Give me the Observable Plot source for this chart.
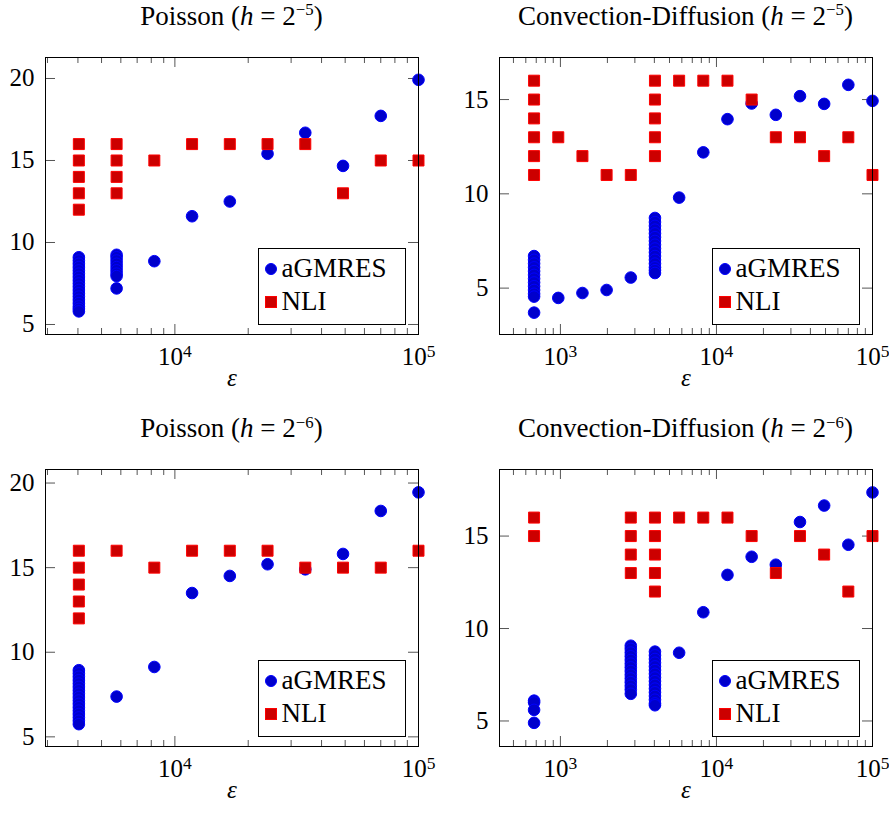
<!DOCTYPE html>
<html><head><meta charset="utf-8">
<script src="https://cdn.jsdelivr.net/npm/d3@7"></script>
<script src="https://cdn.jsdelivr.net/npm/@observablehq/plot@0.6"></script>
<style>
body{margin:0;background:#fff;}
#root{position:relative;width:889px;height:815px;font-family:"Liberation Serif",serif;color:#000;overflow:hidden;}
.title{position:absolute;font-size:27px;line-height:27px;text-align:center;white-space:nowrap;}
.sup{font-size:0.62em;position:relative;top:-0.55em;}
.panel{position:absolute;}
.panel svg text{font-family:"Liberation Serif",serif;}
.legend{position:absolute;border:1px solid #000;background:#fff;box-sizing:border-box;font-size:27px;}
.legend .t{position:absolute;line-height:32px;white-space:nowrap;}
.legend .c{position:absolute;width:10px;height:10px;border:1px solid #0000ff;background:#0000cc;border-radius:50%;}
.legend .s{position:absolute;width:10px;height:10px;border:1px solid #ff0000;background:#cc0000;}
</style></head>
<body><div id="root"></div>
<script>
// ---------- data ----------
const poissonEps = [4035, 5765, 8235, 11765, 16807, 24010, 34300, 49000, 70000, 100000];
const cdEps = [678, 969, 1384, 1977, 2825, 4035, 5765, 8235, 11765, 16807, 24010, 34300, 49000, 70000, 100000];

const poissonYTicks = [5, 10, 15, 20];
const cdYTicks = [5, 10, 15];
const poissonXMajor = [1e4, 1e5];
const poissonXMinor = [3000, 4000, 5000, 6000, 7000, 8000, 9000, 20000, 30000, 40000, 50000, 60000, 70000, 80000, 90000];
const cdXMajor = [1e3, 1e4, 1e5];
const cdXMinor = [500, 600, 700, 800, 900, 2000, 3000, 4000, 5000, 6000, 7000, 8000, 9000, 20000, 30000, 40000, 50000, 60000, 70000, 80000, 90000];

// Poisson h = 2^-5
const p5Agmres = [
  [9.1, 8.9, 8.7, 8.5, 8.3, 8.1, 7.9, 7.7, 7.5, 7.3, 7.1, 6.9, 6.7, 6.5, 6.3, 6.1, 5.95, 5.8],
  [9.25, 9.1, 8.9, 8.7, 8.5, 8.3, 8.1, 7.95, 7.2],
  [8.86], [11.6], [12.5], [15.41], [16.69], [14.67], [17.72], [19.92]
];
const p5Nli = [[16, 15, 14, 13, 12], [16, 15, 14, 13], [15], [16], [16], [16], [16], [13], [15], [15]];

// Convection-Diffusion h = 2^-5
const c5Agmres = [
  [6.7, 6.5, 6.3, 6.1, 5.9, 5.7, 5.5, 5.3, 5.1, 4.9, 4.7, 4.55, 3.7],
  [4.48], [4.74], [4.9], [5.56],
  [8.72, 8.5, 8.3, 8.1, 7.9, 7.7, 7.5, 7.3, 7.1, 6.9, 6.7, 6.5, 6.3, 6.1, 5.95, 5.8],
  [9.8], [12.2], [13.96], [14.79], [14.19], [15.18], [14.77], [15.78], [14.93]
];
const c5Nli = [[16, 15, 14, 13, 12, 11], [13], [12], [11], [11], [16, 15, 14, 13, 12], [16], [16], [16], [15], [13], [13], [12], [13], [11]];

// Poisson h = 2^-6
const p6Agmres = [
  [8.94, 8.75, 8.55, 8.35, 8.15, 7.95, 7.75, 7.55, 7.35, 7.15, 6.95, 6.75, 6.55, 6.35, 6.15, 5.95, 5.75],
  [7.38], [9.13], [13.5], [14.51], [15.2], [14.9], [15.81], [18.35], [19.45]
];
const p6Nli = [[16, 15, 14, 13, 12], [16], [15], [16], [16], [16], [15], [15], [15], [16]];

// Convection-Diffusion h = 2^-6
const c6Agmres = [
  [6.1, 6.0, 5.6, 4.9], [], [], [],
  [9.07, 8.9, 8.7, 8.5, 8.3, 8.1, 7.9, 7.7, 7.5, 7.3, 7.1, 6.9, 6.7, 6.47],
  [8.75, 8.55, 8.35, 8.15, 7.95, 7.75, 7.55, 7.35, 7.15, 6.95, 6.75, 6.55, 6.35, 6.15, 5.95, 5.85],
  [8.69], [10.88], [12.9], [13.88], [13.45], [15.76], [16.65], [14.53], [17.36]
];
const c6Nli = [[16, 15], [], [], [], [16, 15, 14, 13], [16, 15, 14, 13, 12], [16], [16], [16], [15], [13], [15], [14], [12], [15]];

const seriesNames = ["aGMRES", "NLI"];

// ---------- layout ----------
const panels = [
  {title: 'Poisson (<i>h</i> = 2<span class="sup">−5</span>)', left: 0, top: 40, titleTop: 2.5,
   eps: poissonEps, ag: p5Agmres, nli: p5Nli, xDomain: [2944, 100000], yDomain: [4.39, 21.28],
   yTicks: poissonYTicks, xMajor: poissonXMajor, xMinor: poissonXMinor, mLeft: 45, mTop: 17},
  {title: 'Convection-Diffusion (<i>h</i> = 2<span class="sup">−5</span>)', left: 445, top: 40, titleTop: 2.5,
   eps: cdEps, ag: c5Agmres, nli: c5Nli, xDomain: [407, 100000], yDomain: [2.54, 17.23],
   yTicks: cdYTicks, xMajor: cdXMajor, xMinor: cdXMinor, mLeft: 54, mTop: 17},
  {title: 'Poisson (<i>h</i> = 2<span class="sup">−6</span>)', left: 0, top: 450, titleTop: 415,
   eps: poissonEps, ag: p6Agmres, nli: p6Nli, xDomain: [2944, 100000], yDomain: [4.43, 20.8],
   yTicks: poissonYTicks, xMajor: poissonXMajor, xMinor: poissonXMinor, mLeft: 45, mTop: 19},
  {title: 'Convection-Diffusion (<i>h</i> = 2<span class="sup">−6</span>)', left: 445, top: 450, titleTop: 415,
   eps: cdEps, ag: c6Agmres, nli: c6Nli, xDomain: [407, 100000], yDomain: [3.62, 18.6],
   yTicks: cdYTicks, xMajor: cdXMajor, xMinor: cdXMinor, mLeft: 54, mTop: 19}
];

const FW = 373, FH = 277, PW = 444, PH = 365;
const tickC = "#555";
const root = document.getElementById("root");
const rows = (eps, vals) => eps.flatMap((e, i) => vals[i].map(v => ({eps: e, it: v})));

for (const p of panels) {
  const fx = p.left + p.mLeft, fy = p.top + p.mTop;
  const t = document.createElement("div");
  t.className = "title";
  t.style.left = (fx - 60) + "px"; t.style.width = (FW + 120) + "px"; t.style.top = p.titleTop + "px";
  t.innerHTML = p.title;
  root.appendChild(t);

  const svg = Plot.plot({
    width: PW, height: PH,
    marginLeft: p.mLeft, marginRight: PW - p.mLeft - FW, marginTop: p.mTop, marginBottom: PH - p.mTop - FH,
    x: {type: "log", domain: p.xDomain},
    y: {domain: p.yDomain},
    style: "font-family: 'Liberation Serif', serif; font-size: 25px; color: black; background: transparent; overflow: visible;",
    marks: [
      Plot.tickX(p.xMinor, {x: d => d, insetTop: FH - 6, stroke: tickC}),
      Plot.tickX(p.xMinor, {x: d => d, insetBottom: FH - 6, stroke: tickC}),
      Plot.tickX(p.xMajor, {x: d => d, insetTop: FH - 10, stroke: tickC}),
      Plot.tickX(p.xMajor, {x: d => d, insetBottom: FH - 10, stroke: tickC}),
      Plot.tickY(p.yTicks, {y: d => d, insetRight: FW - 10, stroke: tickC}),
      Plot.tickY(p.yTicks, {y: d => d, insetLeft: FW - 10, stroke: tickC}),
      Plot.axisX({ticks: p.xMajor, tickSize: 0, tickPadding: 13, label: null, fontSize: 25,
        tickFormat: d => "10^" + Math.round(Math.log10(d))}),
      Plot.axisY({ticks: p.yTicks, tickSize: 0, tickPadding: 11, label: null, fontSize: 25}),
      Plot.text(["ε"], {text: d => d, frameAnchor: "bottom", dy: 51, fontStyle: "italic", fontSize: 25}),
      Plot.dot(rows(p.eps, p.ag), {x: "eps", y: "it", r: 5.8, fill: "#0000cc", stroke: "#0000ff", strokeWidth: 1}),
      Plot.dot(rows(p.eps, p.nli), {x: "eps", y: "it", symbol: "square", r: 6.2, fill: "#cc0000", stroke: "#ff0000", strokeWidth: 1}),
      Plot.frame({stroke: "black", strokeWidth: 1})
    ]
  });
  // superscript exponents in x tick labels
  d3.select(svg).selectAll("text").each(function () {
    const s = this.textContent;
    if (s.startsWith("10^")) {
      const sel = d3.select(this);
      sel.text(null);
      sel.append("tspan").text("10");
      sel.append("tspan").attr("dy", "-0.45em").attr("font-size", "0.7em").text(s.slice(3));
    }
  });
  const wrap = document.createElement("div");
  wrap.className = "panel";
  wrap.style.left = p.left + "px"; wrap.style.top = p.top + "px";
  wrap.style.width = PW + "px"; wrap.style.height = PH + "px";
  wrap.appendChild(svg);
  root.appendChild(wrap);

  // legend
  const lw = 148.5, lh = 77;
  const lg = document.createElement("div");
  lg.className = "legend";
  lg.style.left = (fx + FW - 12 - lw) + "px"; lg.style.top = (fy + FH - 9 - lh) + "px";
  lg.style.width = lw + "px"; lg.style.height = lh + "px";
  lg.innerHTML =
    `<span class="c" style="left:6.7px;top:14px"></span><div class="t" style="left:23px;top:3.3px">${seriesNames[0]}</div>` +
    `<span class="s" style="left:6.7px;top:47.3px"></span><div class="t" style="left:23px;top:36.3px">${seriesNames[1]}</div>`;
  root.appendChild(lg);
}
</script>
</body></html>
